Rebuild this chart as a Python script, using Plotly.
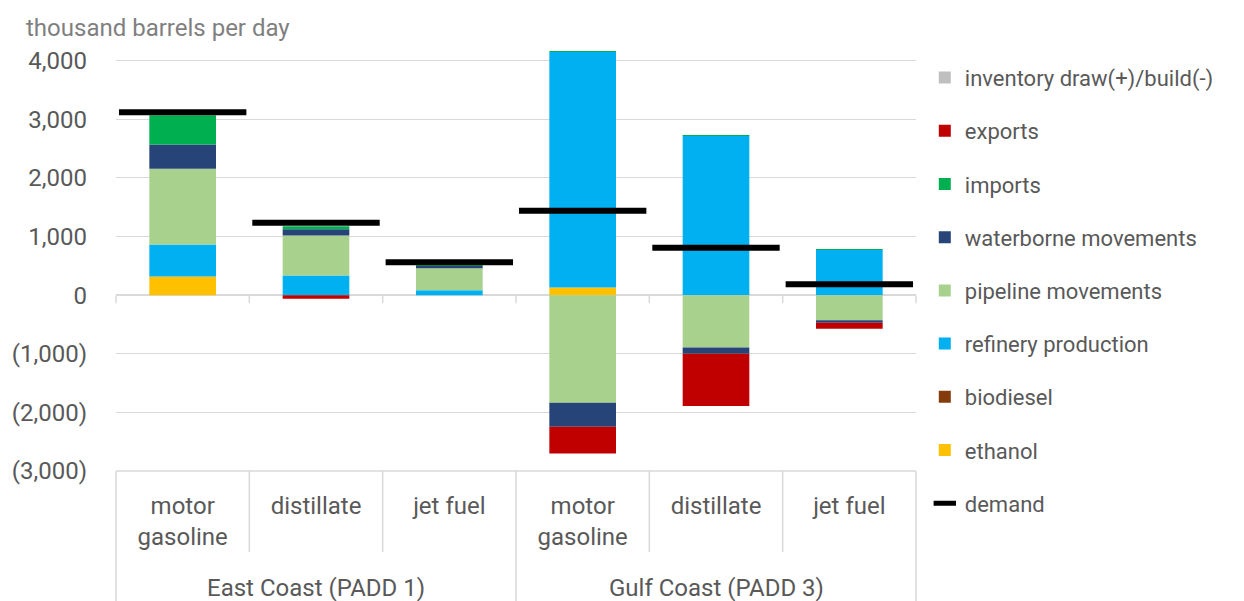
import plotly.graph_objects as go

# ---------------- data ----------------
groups = ["East Coast (PADD 1)", "Gulf Coast (PADD 3)"]
products = ["motor gasoline", "distillate", "jet fuel"]
product_labels = ["motor<br>gasoline", "distillate", "jet fuel"]

ethanol    = [320,    0,   0,   130,    0,    0]
biodiesel  = [0,      0,   0,     0,    0,    0]
refinery   = [545,  335,  85,  4020, 2725,  775]
pipeline   = [1290, 685, 375, -1835, -895, -430]
waterborne = [415,  105,  40,  -410, -105,  -40]
imports    = [500,   50,  10,    10,    5,    5]
exports    = [0,    -60,   0,  -455, -890, -105]
inventory  = [0,      0,   0,     0,    0,    0]
demand     = [3120, 1235, 560, 1440,  810,  185]

y_tickvals = [-3000, -2000, -1000, 0, 1000, 2000, 3000, 4000]
y_ticktext = ["(3,000)", "(2,000)", "(1,000)", "0", "1,000", "2,000", "3,000", "4,000"]

unit_label = "thousand barrels per day"

# ---------------- styling ----------------
FONT = "Roboto"
TXT = "#595959"
GRID = "#D9D9D9"

series = [
    ("ethanol", ethanol, "#FFC000"),
    ("biodiesel", biodiesel, "#843C0C"),
    ("refinery production", refinery, "#00B0F0"),
    ("pipeline movements", pipeline, "#A9D18E"),
    ("waterborne movements", waterborne, "#264478"),
    ("imports", imports, "#00B050"),
    ("exports", exports, "#C00000"),
    ("inventory draw(+)/build(-)", inventory, "#BFBFBF"),
]

n_cat = len(groups) * len(products)
xpos = list(range(n_cat))
xmin, xmax = -0.5, n_cat - 0.5

fig = go.Figure()
for rank, (name, vals, col) in enumerate(series):
    fig.add_trace(go.Bar(
        x=xpos, y=vals, name=name, width=0.5,
        marker=dict(color=col, line=dict(width=0)),
        legendgroup=name, legendrank=100 - rank,
    ))

fig.add_trace(go.Scatter(
    x=xpos, y=demand, name="demand", mode="markers",
    marker=dict(symbol="line-ew", size=91, color="black",
                line=dict(width=6, color="black")),
    legendgroup="demand", legendrank=200,
))

# category box lines (paper coords, pixel-sized)
shapes = []
shapes.append(dict(type="line", xref="paper", yref="paper", x0=0, x1=1, y0=0, y1=0,
                   line=dict(color=GRID, width=1.5)))
per_group = len(products)
for b in range(n_cat + 1):
    px = b / n_cat
    is_group = (b % per_group == 0)
    shapes.append(dict(type="line", xref="paper", yref="paper",
                       ysizemode="pixel", yanchor=0,
                       x0=px, x1=px, y0=0, y1=-(130 if is_group else 81),
                       line=dict(color=GRID, width=1.5)))
    # small tick marks below the zero line
    shapes.append(dict(type="line", xref="paper", yref="y",
                       ysizemode="pixel", yanchor=0,
                       x0=px, x1=px, y0=0, y1=-8,
                       line=dict(color=GRID, width=1.5)))

annotations = []
for gi, g in enumerate(groups):
    annotations.append(dict(text=g, xref="paper", yref="paper",
                            x=(gi + 0.5) / len(groups), xanchor="center",
                            y=0, yanchor="middle",
                            yshift=-117, showarrow=False,
                            font=dict(family=FONT, size=24, color=TXT)))
annotations.append(dict(text=unit_label, xref="paper", yref="paper",
                        x=(22 - 114) / 802, xanchor="left", y=1, yanchor="middle",
                        yshift=21, showarrow=False,
                        font=dict(family=FONT, size=24, color="#7F7F7F")))

fig.update_layout(
    width=1244, height=601,
    margin=dict(l=114, r=328, t=49, b=130),
    barmode="relative",
    plot_bgcolor="white", paper_bgcolor="white",
    font=dict(family=FONT, size=22, color=TXT),
    xaxis=dict(range=[xmin, xmax], tickvals=xpos,
               ticktext=product_labels * len(groups),
               showgrid=False, zeroline=False, showline=False, ticks="",
               ticklabelstandoff=18,
               tickfont=dict(family=FONT, size=24, color=TXT)),
    yaxis=dict(range=[-3000, 4200], tickvals=y_tickvals, ticktext=y_ticktext,
               showgrid=True, gridcolor=GRID, gridwidth=1.2,
               zeroline=True, zerolinecolor=GRID, zerolinewidth=1.5,
               showline=False, ticks="", ticklabelstandoff=28,
               tickfont=dict(family=FONT, size=24, color=TXT)),
    legend=dict(x=1.011, xanchor="left", y=0.9815, yanchor="top",
                font=dict(family=FONT, size=22, color=TXT),
                tracegroupgap=21.6, maxheight=580,
                bgcolor="rgba(0,0,0,0)"),
    shapes=shapes, annotations=annotations,
    showlegend=True,
)

fig.write_html("out.html", config={"displayModeBar": False},
               post_script="document.body.style.margin='0';")
